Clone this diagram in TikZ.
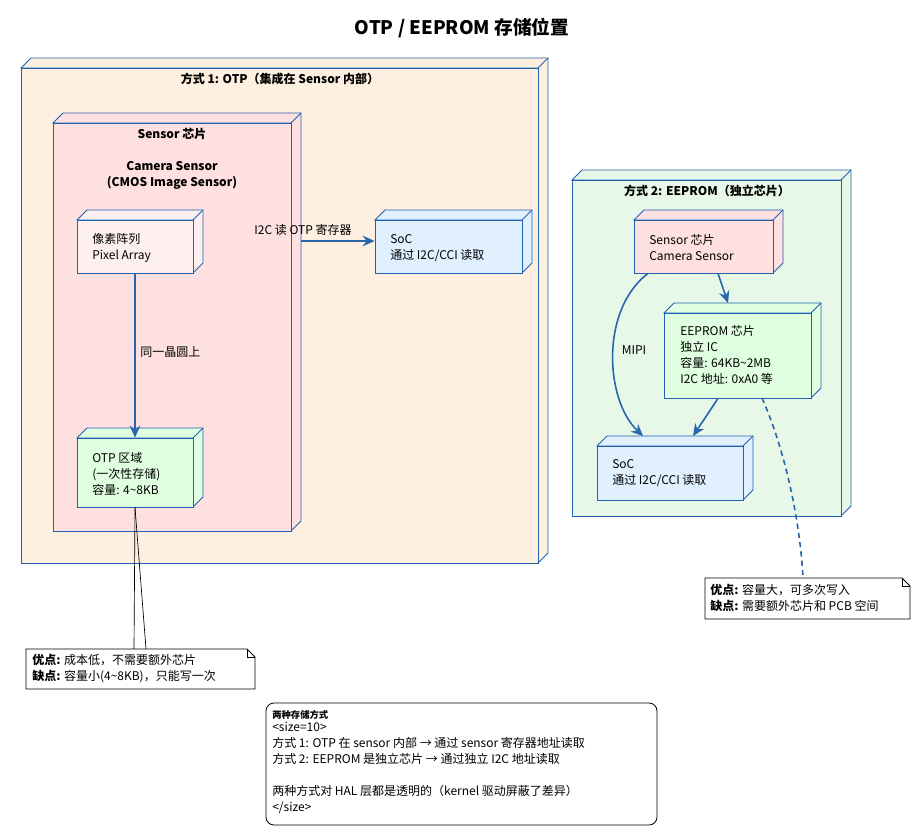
\documentclass[tikz,border=0pt]{standalone}
\usepackage{fontspec}
\setmainfont{Noto Sans CJK SC}
\usetikzlibrary{arrows.meta,fit}
\definecolor{edge}{HTML}{2060B0}
\definecolor{flow}{HTML}{2A66AC}
\definecolor{otpbg}{HTML}{FEF0E0}
\definecolor{eepbg}{HTML}{E8F8E8}
\definecolor{chippink}{HTML}{FFE0E0}
\definecolor{pixpink}{HTML}{FFF0F0}
\definecolor{memgreen}{HTML}{E0FFE0}
\definecolor{socblue}{HTML}{E0F0FF}
\tikzset{
  txt/.style={font=\fontsize{9}{12}\selectfont, align=left, inner sep=0pt},
  head/.style={font=\bfseries\fontsize{9}{12}\selectfont, align=center, inner sep=0pt},
  link/.style={flow, line width=1.2pt, -{Stealth[length=9pt,width=8pt,inset=3pt]}},
}
% 3D box: name, x1, y1, x2, y2, fill
\newcommand\chipbox[6]{%
  \filldraw[fill=#6, draw=edge, line width=0.6pt] (#2,#3) -- (#2+10,#3-10) -- (#4+10,#3-10)
    -- (#4+10,#5-10) -- (#4,#5) -- (#4,#3) -- cycle;
  \draw[edge, line width=0.6pt] (#4,#3) -- (#4+10,#3-10);
  \coordinate (#1-nw) at (#2,#3);
  \coordinate (#1-se) at (#4,#5);
  \node[fit=(#1-nw)(#1-se), inner sep=0pt, draw=edge, line width=0.6pt, fill=#6] (#1) {};
}
% note with folded corner: name, x1, y1, x2, y2
\newcommand\notebox[5]{%
  \filldraw[fill=white, draw=black, line width=0.6pt] (#2,#3) -- (#4-8,#3) -- (#4,#3+8)
    -- (#4,#5) -- (#2,#5) -- cycle;
  \draw[line width=0.6pt] (#4-8,#3) |- (#4,#3+8);
  \coordinate (#1-nw) at (#2,#3);
  \coordinate (#1-se) at (#4,#5);
  \node[fit=(#1-nw)(#1-se), inner sep=0pt] (#1) {};
}
\begin{document}
\begin{tikzpicture}[x=0.75pt,y=-0.75pt]
\useasboundingbox[fill=white] (0,0) rectangle (924,835);
\node[font=\bfseries\fontsize{14}{16}\selectfont] (title) at (462,28) {OTP / EEPROM 存储位置};
% way 1
\chipbox{wayone}{21}{68}{538}{563}{otpbg}
\node[head] (wayonet) at (280,79) {方式 1: OTP（集成在 Sensor 内部）};
\chipbox{sensor}{53}{123}{291}{531}{chippink}
\node[head] (sensort) at (172,134) {Sensor 芯片};
\node[head] (sensorn) at (172,175) {Camera Sensor\\(CMOS Image Sensor)};
\chipbox{pixel}{77}{220}{193}{273}{pixpink}
\node[txt, anchor=west] at (92,248) {像素阵列\\Pixel Array};
\chipbox{otp}{77}{438}{193}{507}{memgreen}
\node[txt, anchor=west] at (92,474) {OTP 区域\\(一次性存储)\\容量: 4\textasciitilde8KB};
\chipbox{socone}{375}{220}{522}{273}{socblue}
\node[txt, anchor=west] at (390,248) {SoC\\通过 I2C/CCI 读取};
\draw[link] (301,241) -- (socone.west |- 0,241);
\node[txt] at (303,230) {I2C 读 OTP 寄存器};
\draw[link] (pixel.south) -- (otp.north);
\node[txt, anchor=west] at (140,352) {同一晶圆上};
% way 2
\chipbox{waytwo}{572}{180}{841}{516}{eepbg}
\node[head] (waytwot) at (707,191) {方式 2: EEPROM（独立芯片）};
\chipbox{sensortwo}{634}{220}{773}{273}{chippink}
\node[txt, anchor=west] at (649,248) {Sensor 芯片\\Camera Sensor};
\chipbox{eeprom}{664}{313}{811}{398}{memgreen}
\node[txt, anchor=west] at (680,355) {EEPROM 芯片\\独立 IC\\容量: 64KB\textasciitilde2MB\\I2C 地址: 0xA0 等};
\chipbox{soctwo}{597}{446}{743}{500}{socblue}
\node[txt, anchor=west] at (612,473) {SoC\\通过 I2C/CCI 读取};
\draw[link] (sensortwo.south -| 718,0) -- (728,303);
\draw[link] (eeprom.south -| 718,0) -- (693,436);
\draw[link] (sensortwo.south -| 648,0) .. controls (600,310) and (605,400) .. (643,436);
\node[txt] at (634,350) {MIPI};
% notes
\notebox{noteone}{26}{649}{255}{689}
\node[txt, anchor=west] at (32,669) {\textbf{优点:} 成本低，不需要额外芯片\\\textbf{缺点:} 容量小(4\textasciitilde8KB)，只能写一次};
\draw[line width=0.5pt] (otp.south) -- (134,649);
\draw[line width=0.5pt] (otp.south) -- (146,649);
\notebox{notetwo}{705}{578}{910}{619}
\node[txt, anchor=west] at (710,598) {\textbf{优点:} 容量大，可多次写入\\\textbf{缺点:} 需要额外芯片和 PCB 空间};
\draw[flow, line width=1.2pt, dash pattern=on 4pt off 3pt] (762,398) .. controls (785,450) and (800,520) .. (803,578);
% legend
\node[draw, rounded corners=6pt, line width=0.6pt, fit={(266,703) (657,825)}, inner sep=0pt] (legend) {};
\node[anchor=north west, font=\bfseries\fontsize{7}{9}\selectfont, inner sep=0pt] at (272,710) {两种存储方式};
\node[txt, anchor=north west] at (272,722) {<size=10>\\方式 1: OTP 在 sensor 内部 → 通过 sensor 寄存器地址读取\\方式 2: EEPROM 是独立芯片 → 通过独立 I2C 地址读取\\[12pt]两种方式对 HAL 层都是透明的（kernel 驱动屏蔽了差异）\\</size>};
\end{tikzpicture}
\end{document}
